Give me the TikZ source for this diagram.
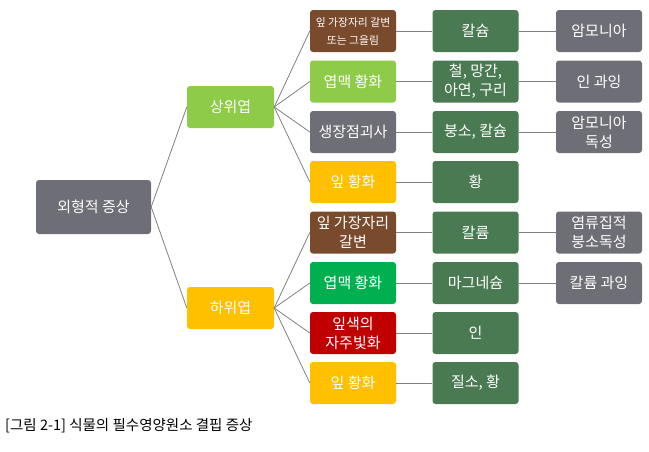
\documentclass[tikz,border=0pt]{standalone}
\usepackage{fontspec}
\setmainfont{Noto Sans CJK KR}
\usetikzlibrary{positioning}
\definecolor{rootgray}{HTML}{6E6E76}
\definecolor{nutgreen}{HTML}{4A7A52}
\definecolor{leafbrown}{HTML}{7A4A2C}
\definecolor{limegreen}{HTML}{8DCB48}
\definecolor{amber}{HTML}{FFC000}
\definecolor{veingreen}{HTML}{00B050}
\definecolor{deepred}{HTML}{C00000}
\definecolor{linkgray}{HTML}{808080}

\begin{document}
\begin{tikzpicture}[
    x=1pt, y=-1pt,
    box/.style={
        rounded corners=3pt, text=white,
        minimum width=86pt, minimum height=42pt,
        align=center, inner sep=1pt,
        font=\fontsize{15}{19}\selectfont
    },
    link/.style={
        draw=linkgray, line width=0.8pt
    }
]
\useasboundingbox (0,0) rectangle (649,451);

% --- root and the two leaf groups ---
\node[box, fill=rootgray, minimum width=115pt, minimum height=54pt] (root) at (93.5,207) {외형적 증상};
\node[box, fill=limegreen, minimum width=87pt] (upper) at (230.5,107) {상위엽};
\node[box, fill=amber, minimum width=87pt] (lower) at (230.5,308) {하위엽};

% --- symptoms ---
\node[box, fill=leafbrown, font=\fontsize{10.8}{18}\selectfont] (s1) at (353,31) {잎 가장자리 갈변\\또는 그을림};
\node[box, fill=limegreen]  (s2) at (353,81.5) {엽맥 황화};
\node[box, fill=rootgray]   (s3) at (353,132)  {생장점괴사};
\node[box, fill=amber]      (s4) at (353,182)  {잎 황화};
\node[box, fill=leafbrown]  (s5) at (353,232.5) {잎 가장자리\\갈변};
\node[box, fill=veingreen]  (s6) at (353,283)  {엽맥 황화};
\node[box, fill=deepred]    (s7) at (353,333)  {잎색의\\자주빛화};
\node[box, fill=amber]      (s8) at (353,383)  {잎 황화};

% --- deficient nutrients ---
\node[box, fill=nutgreen] (n1) at (475.5,31)   {칼슘};
\node[box, fill=nutgreen] (n2) at (475.5,81.5) {철, 망간,\\아연, 구리};
\node[box, fill=nutgreen] (n3) at (475.5,132)  {붕소, 칼슘};
\node[box, fill=nutgreen] (n4) at (475.5,182)  {황};
\node[box, fill=nutgreen] (n5) at (475.5,232.5) {칼륨};
\node[box, fill=nutgreen] (n6) at (475.5,283)  {마그네슘};
\node[box, fill=nutgreen] (n7) at (475.5,333)  {인};
\node[box, fill=nutgreen] (n8) at (475.5,383)  {질소, 황};

% --- related causes ---
\node[box, fill=rootgray] (c1) at (599,31)   {암모니아};
\node[box, fill=rootgray] (c2) at (599,81.5) {인 과잉};
\node[box, fill=rootgray] (c3) at (599,132)  {암모니아\\독성};
\node[box, fill=rootgray] (c5) at (599,232.5) {염류집적\\붕소독성};
\node[box, fill=rootgray] (c6) at (599,283)  {칼륨 과잉};

% --- connectors ---
\draw[link] (root.east) -- (upper.west);
\draw[link] (root.east) -- (lower.west);
\foreach \s in {1,...,4} \draw[link] (upper.east) -- (s\s.west);
\foreach \s in {5,...,8} \draw[link] (lower.east) -- (s\s.west);
\foreach \s in {1,...,8} \draw[link] (s\s) -- (n\s);
\foreach \s in {1,2,3,5,6} \draw[link] (n\s) -- (c\s);

% --- caption ---
\node[anchor=west, font=\fontsize{14.5}{16}\selectfont, inner sep=0pt] (caption) at (5,426) {[그림 2-1] 식물의 필수영양원소 결핍 증상};
\end{tikzpicture}
\end{document}
